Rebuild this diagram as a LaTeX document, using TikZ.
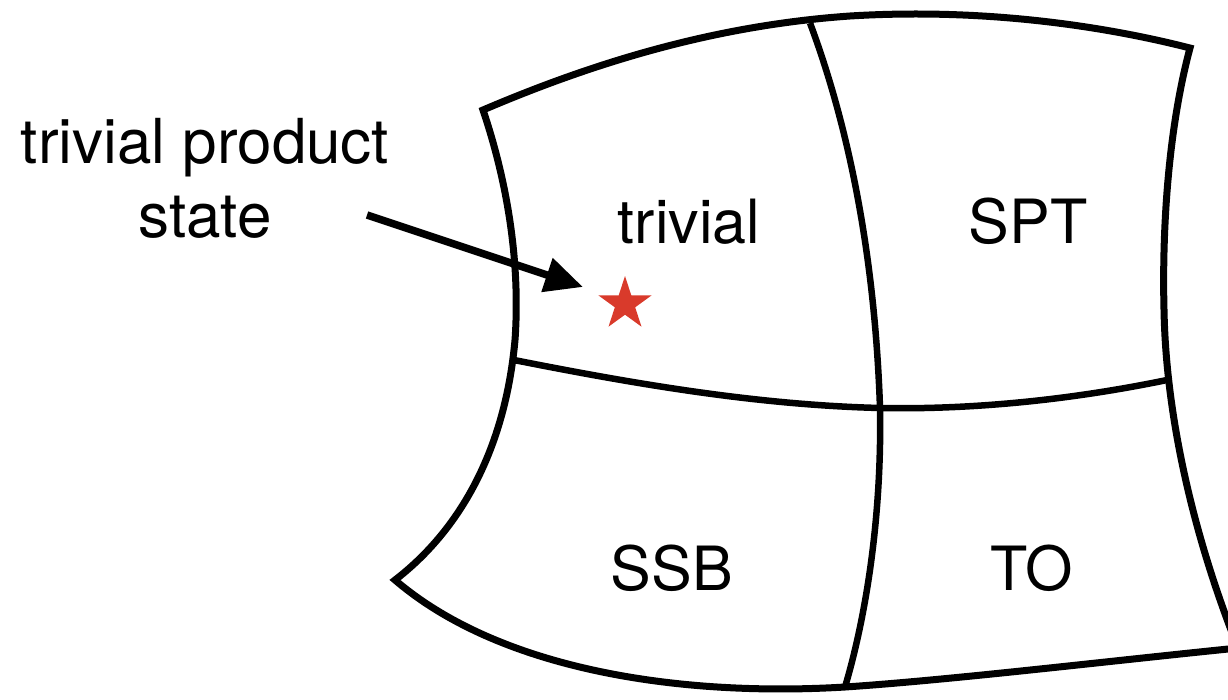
\documentclass[tikz,border=0pt]{standalone}
\usepackage{fontspec}
\setmainfont{TeX Gyre Heros}
\usetikzlibrary{arrows.meta,shapes.geometric}
\definecolor{starred}{HTML}{D93A2B}
\tikzset{
  edge/.style={line width=7pt, line join=miter, black},
  divider/.style={line width=6.5pt, black},
  region/.style={font=\fontsize{61}{72}\selectfont, inner sep=0pt, anchor=base, text=black},
  pointer/.style={line width=7.5pt, -{Triangle[length=38pt,width=34pt]}},
}
\begin{document}
\begin{tikzpicture}[x=1pt,y=-1pt]
\useasboundingbox (0,0) rectangle (1228,699);
\clip (0,0) rectangle (1228,699);
\fill[white] (0,0) rectangle (1228,699);
% outline
\coordinate (TL) at (483,110);
\coordinate (TR) at (1190,48);
\coordinate (BR) at (1238,648);
\coordinate (BL) at (395,580);
\draw[edge] (TL) .. controls (600,60) and (720,25) .. (850,16)
  .. controls (980,8) and (1100,25) .. (TR)
  .. controls (1168,130) and (1162,230) .. (1164,310)
  .. controls (1166,420) and (1195,540) .. (BR)
  .. controls (1100,662) and (950,680) .. (845,687)
  .. controls (680,697) and (500,670) .. (BL)
  .. controls (460,530) and (505,450) .. (515,340)
  .. controls (520,270) and (510,190) .. cycle;
% dividers
\coordinate (VT) at (810,23);
\coordinate (X) at (880,408);
\coordinate (VB) at (845,687);
\coordinate (HL) at (514,360);
\coordinate (HR) at (1167,380);
\draw[divider] (VT) .. controls (850,130) and (875,260) .. (X)
  .. controls (882,520) and (865,620) .. (VB);
\draw[divider] (HL) .. controls (640,385) and (760,405) .. (X)
  .. controls (980,410) and (1080,398) .. (HR);
% labels
\node[region] (triv) at (689,243) {trivial};
\node[region] (spt) at (1028,243) {SPT};
\node[region] (ssb) at (672,590) {SSB};
\node[region] (to) at (1032,590) {TO};
\node[font=\fontsize{62}{74}\selectfont, align=center, inner sep=0pt, anchor=north] (lab) at (205,118) {trivial product\\state};
% star and arrow
\node[star, star points=5, star point ratio=2.618, minimum size=56pt, inner sep=0pt, fill=starred, draw=none] (st) at (625,304) {};
\coordinate (from) at (367,215);
\coordinate (tip) at (583,287);
\draw[pointer] (from) -- (tip);
\end{tikzpicture}
\end{document}
